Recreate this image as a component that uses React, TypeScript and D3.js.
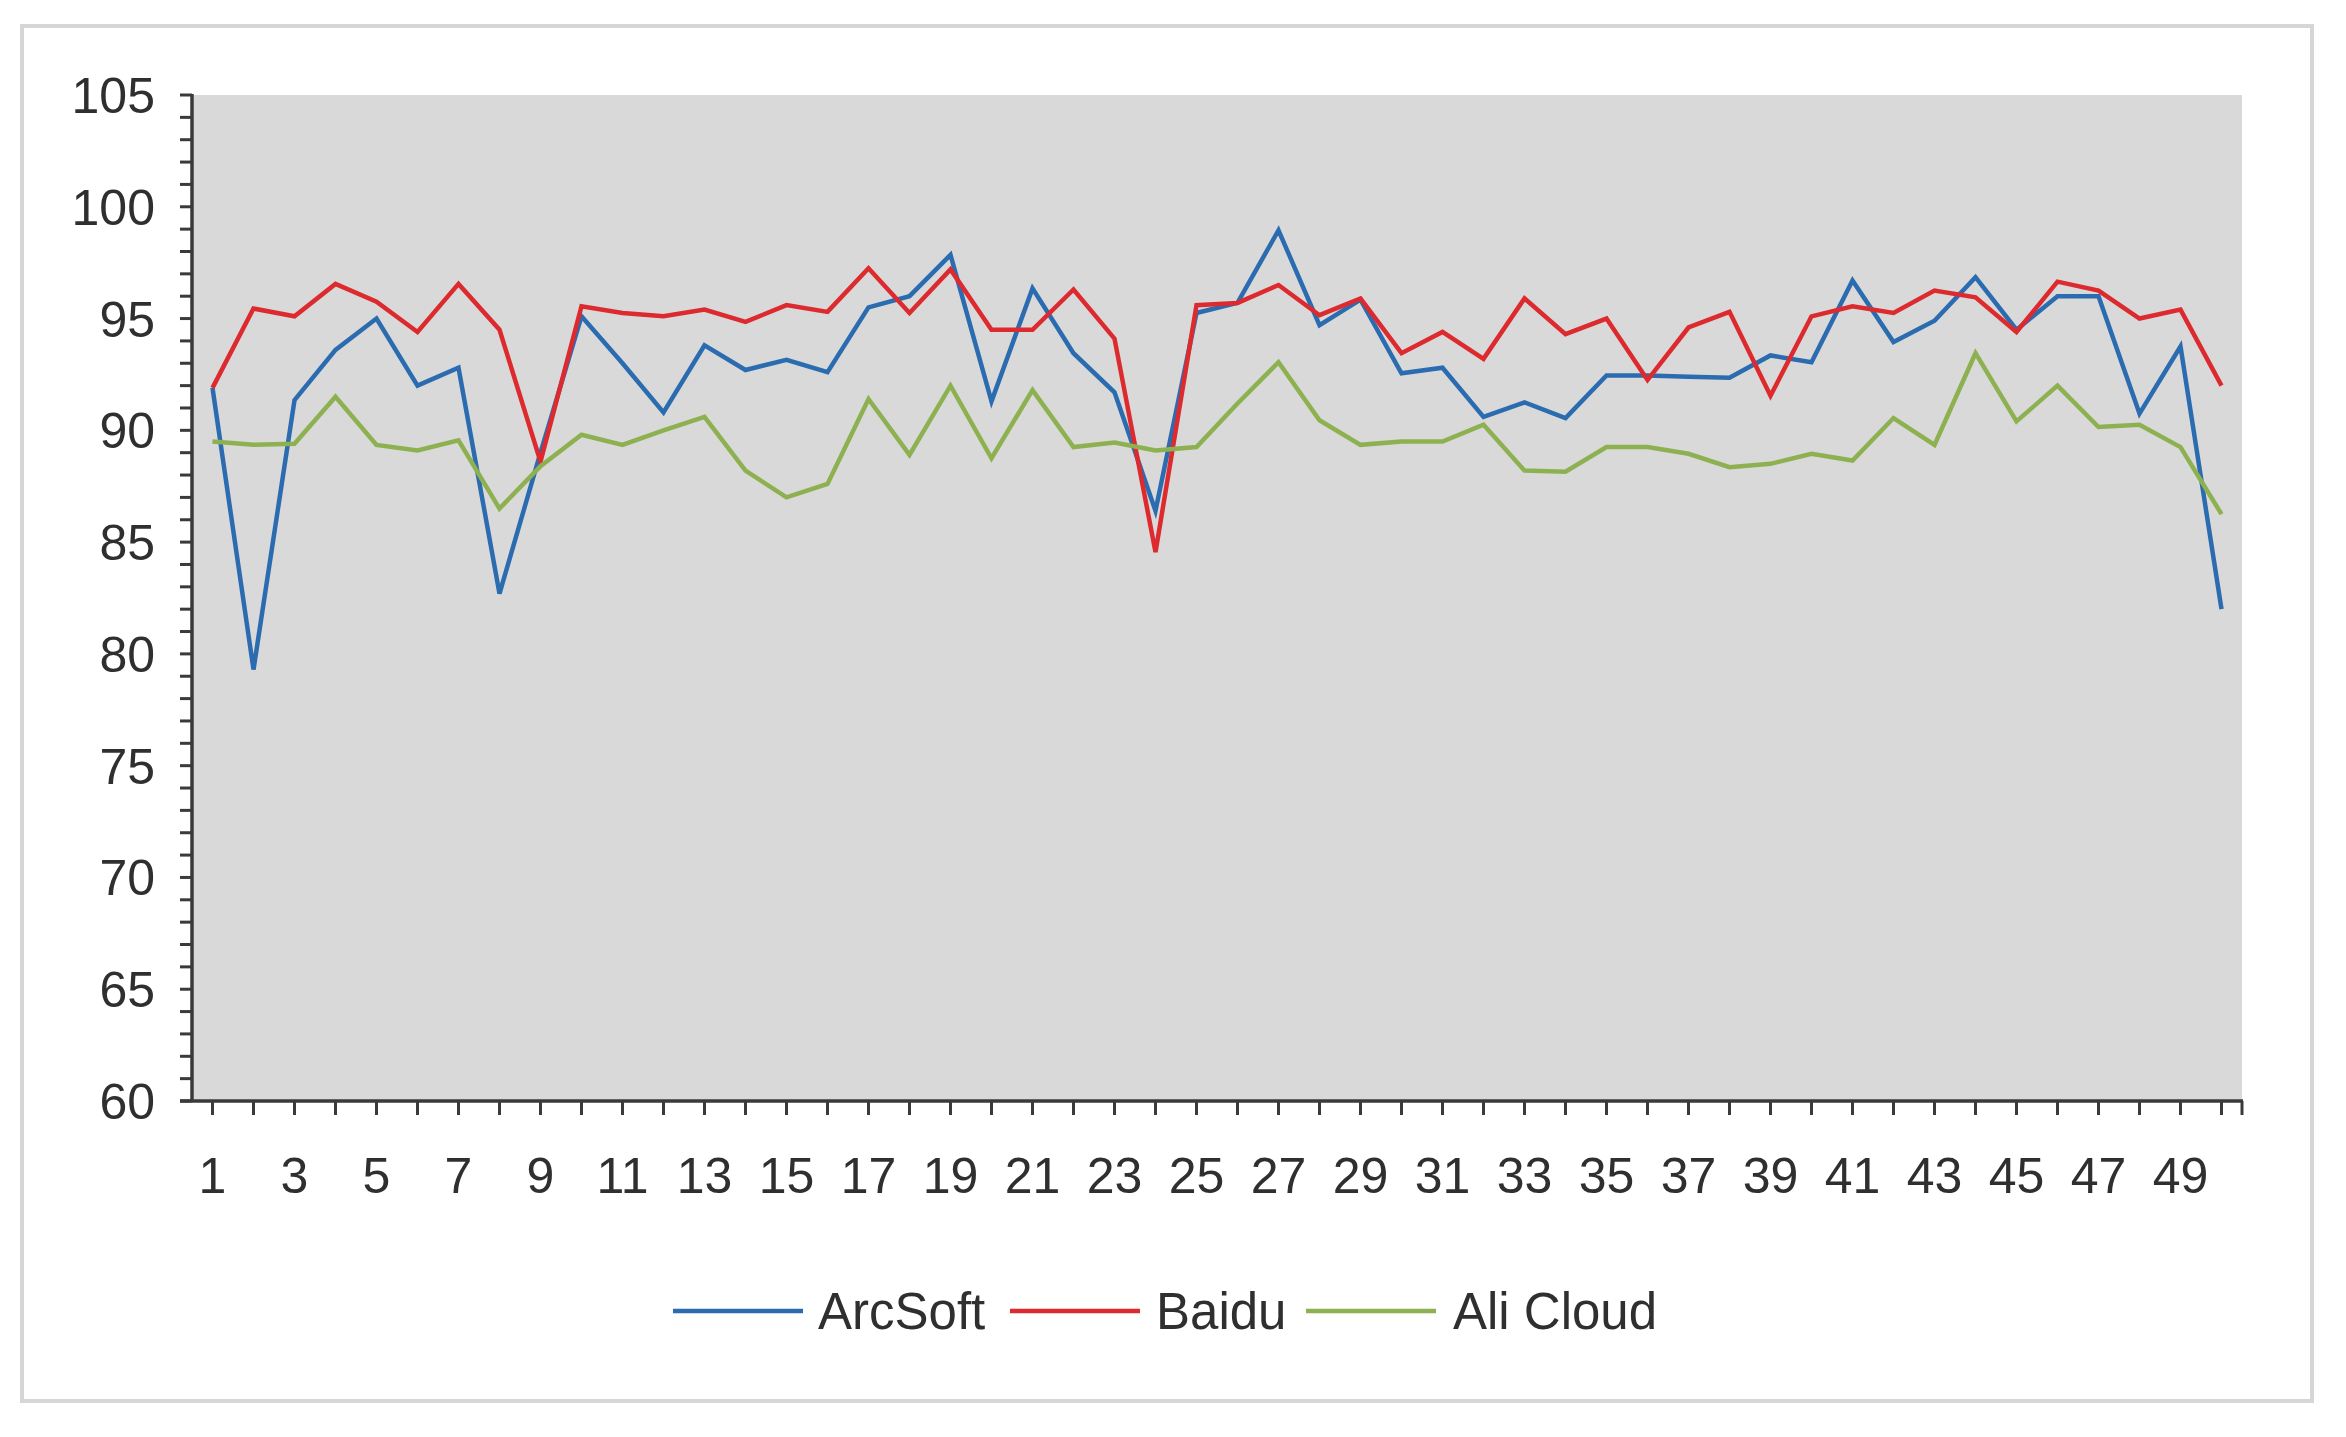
import React from "react";
import * as d3 from "d3";

const categories: number[] = Array.from({ length: 50 }, (_, i) => i + 1);

const arcSoft: number[] = [
  91.9, 79.3, 91.35, 93.6, 95.0, 92.0, 92.8, 82.7, 89.0, 95.1,
  93.0, 90.8, 93.8, 92.7, 93.15, 92.6, 95.5, 96.0, 97.85, 91.3,
  96.35, 93.45, 91.7, 86.4, 95.25, 95.7, 98.95, 94.7, 95.85, 92.55,
  92.8, 90.6, 91.25, 90.55, 92.45, 92.45, 92.4, 92.35, 93.35, 93.05,
  96.7, 93.95, 94.9, 96.85, 94.5, 96.0, 96.0, 90.75, 93.75, 82.0,
];

const baidu: number[] = [
  91.9, 95.45, 95.1, 96.55, 95.75, 94.4, 96.55, 94.5, 88.6, 95.55,
  95.25, 95.1, 95.4, 94.85, 95.6, 95.3, 97.25, 95.25, 97.2, 94.5,
  94.5, 96.3, 94.1, 84.55, 95.6, 95.7, 96.5, 95.15, 95.9, 93.45,
  94.4, 93.2, 95.9, 94.3, 95.0, 92.25, 94.6, 95.3, 91.55, 95.1,
  95.55, 95.25, 96.25, 95.95, 94.4, 96.65, 96.25, 95.0, 95.4, 92.0,
];

const aliCloud: number[] = [
  89.5, 89.35, 89.4, 91.5, 89.35, 89.1, 89.55, 86.5, 88.4, 89.8,
  89.35, 90.0, 90.6, 88.2, 87.0, 87.6, 91.4, 88.9, 92.0, 88.75,
  91.8, 89.25, 89.45, 89.1, 89.25, 91.2, 93.05, 90.45, 89.35, 89.5,
  89.5, 90.25, 88.2, 88.15, 89.25, 89.25, 88.95, 88.35, 88.5, 88.95,
  88.65, 90.55, 89.35, 93.45, 90.4, 92.0, 90.15, 90.25, 89.25, 86.25,
];

const seriesNames: string[] = ["ArcSoft", "Baidu", "Ali Cloud"];
const seriesColors: string[] = ["#2b6cb0", "#dc2a2e", "#8db150"];
const yMajorTicks: number[] = [60, 65, 70, 75, 80, 85, 90, 95, 100, 105];

const W = 2346;
const H = 1437;
const PL = 192;
const PR = 2242;
const PT = 95;
const PB = 1101;
const FONT = "'Liberation Sans', Arial, sans-serif";
const TEXT = "#2f2f2f";
const AXIS = "#3a3a3a";

export default function App() {
  const x = d3
    .scaleBand<number>()
    .domain(categories)
    .range([PL, PR])
    .paddingInner(0)
    .paddingOuter(0);
  const cx = (c: number) => (x(c) as number) + x.bandwidth() / 2;
  const y = d3.scaleLinear().domain([60, 105]).range([PB, PT]);
  const minorTicks = d3.range(60, 106, 1);

  const allSeries = [arcSoft, baidu, aliCloud];
  const line = d3
    .line<number>()
    .x((_, i) => cx(categories[i]))
    .y((d) => y(d));

  const legendItems = [
    { lx: 673, tx: 818 },
    { lx: 1010, tx: 1156 },
    { lx: 1306, tx: 1453 },
  ];
  const legendY = 1311;

  return (
    <div style={{ position: "absolute", left: 0, top: 0 }}>
      <svg width={W} height={H} style={{ display: "block", background: "#ffffff" }}>
        <rect x={0} y={0} width={W} height={H} fill="#ffffff" />
        <rect x={22} y={26} width={2290} height={1375} fill="#ffffff" stroke="#d6d6d6" strokeWidth={4} />
        <rect x={PL} y={PT} width={PR - PL} height={PB - PT} fill="#d9d9d9" />

        {allSeries.map((s, k) => (
          <path
            key={seriesNames[k]}
            d={line(s) || ""}
            fill="none"
            stroke={seriesColors[k]}
            strokeWidth={4.5}
            strokeLinejoin="miter"
            strokeLinecap="butt"
          />
        ))}

        {/* Y axis */}
        <line x1={PL} x2={PL} y1={PT - 1} y2={PB} stroke={AXIS} strokeWidth={3.5} />
        {minorTicks.map((t) => (
          <line key={"yt" + t} x1={PL - 12} x2={PL} y1={y(t)} y2={y(t)} stroke={AXIS} strokeWidth={3} />
        ))}
        {yMajorTicks.map((t) => (
          <text
            key={"yl" + t}
            x={155}
            y={y(t) + 18}
            textAnchor="end"
            fontFamily={FONT}
            fontSize={50}
            fill={TEXT}
          >
            {t}
          </text>
        ))}

        {/* X axis */}
        <line x1={PL - 12} x2={PR + 1} y1={PB} y2={PB} stroke={AXIS} strokeWidth={3.5} />
        {categories.map((c) => (
          <line key={"xt" + c} x1={cx(c)} x2={cx(c)} y1={PB} y2={PB + 14} stroke={AXIS} strokeWidth={3} />
        ))}
        <line x1={PR} x2={PR} y1={PB} y2={PB + 14} stroke={AXIS} strokeWidth={3} />
        {categories
          .filter((c) => c % 2 === 1)
          .map((c) => (
            <text
              key={"xl" + c}
              x={cx(c)}
              y={1193}
              textAnchor="middle"
              fontFamily={FONT}
              fontSize={50}
              fill={TEXT}
            >
              {c}
            </text>
          ))}

        {/* Legend */}
        {seriesNames.map((n, k) => (
          <g key={"lg" + n}>
            <line
              x1={legendItems[k].lx}
              x2={legendItems[k].lx + 130}
              y1={legendY}
              y2={legendY}
              stroke={seriesColors[k]}
              strokeWidth={4.5}
            />
            <text
              x={legendItems[k].tx}
              y={legendY + 18}
              fontFamily={FONT}
              fontSize={51}
              fill={TEXT}
            >
              {n}
            </text>
          </g>
        ))}
      </svg>
    </div>
  );
}
